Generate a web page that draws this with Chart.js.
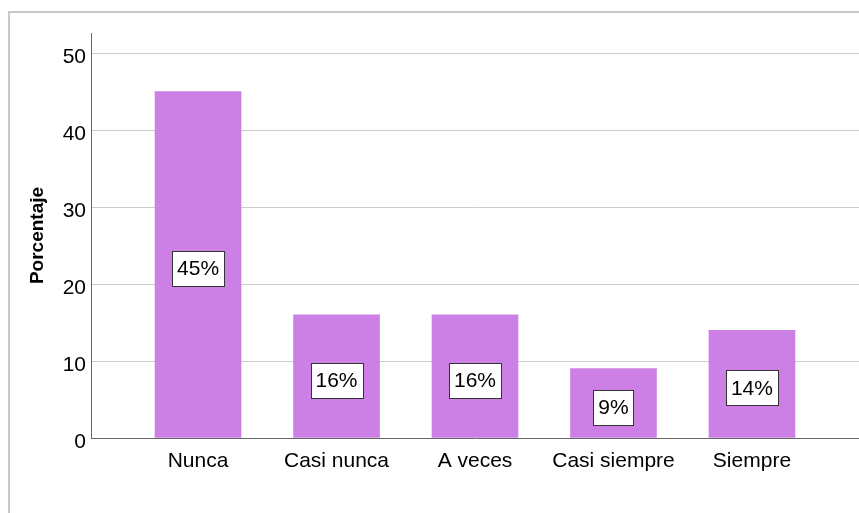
<!DOCTYPE html>
<html>
<head>
<meta charset="utf-8">
<script src="https://cdn.jsdelivr.net/npm/chart.js@4"></script>
<style>
  html, body { margin: 0; padding: 0; background: #fff; }
  #wrap { width: 859px; height: 513px; }
</style>
</head>
<body>
<div id="wrap"><canvas id="chart" width="859" height="513"></canvas></div>
<script>
// Categories and percentages
const categories = ["Nunca", "Casi nunca", "A veces", "Casi siempre", "Siempre"];
const percentages = [45, 16, 16, 9, 14];
const yTicks = [0, 10, 20, 30, 40, 50];

const FONT = "'Liberation Sans', Arial, sans-serif";

// Draws the light gray frame around the chart (SPSS style)
const framePlugin = {
    id: "frame",
    beforeDraw(chart) {
        const ctx = chart.ctx;
        ctx.save();
        ctx.strokeStyle = "#c8c8c8";
        ctx.lineWidth = 2;
        ctx.beginPath();
        ctx.moveTo(9, chart.height + 2);
        ctx.lineTo(9, 12);
        ctx.lineTo(chart.width + 2, 12);
        ctx.stroke();
        ctx.restore();
    }
};

// Boxed percentage labels in the middle of each bar
const boxLabels = {
    id: "boxLabels",
    afterDatasetsDraw(chart) {
        const ctx = chart.ctx;
        const meta = chart.getDatasetMeta(0);
        ctx.save();
        ctx.font = "21px " + FONT;
        ctx.textAlign = "center";
        ctx.textBaseline = "middle";
        meta.data.forEach(function (bar, i) {
            const text = percentages[i] + "%";
            const w = ctx.measureText(text).width + 10;
            const h = 35;
            const cx = bar.x;
            const cy = (bar.y + bar.base) / 2 + 4;
            ctx.fillStyle = "#ffffff";
            ctx.fillRect(Math.round(cx - w / 2) + 0.5, Math.round(cy - h / 2) + 0.5, Math.round(w), h);
            ctx.strokeStyle = "#333333";
            ctx.lineWidth = 1;
            ctx.strokeRect(Math.round(cx - w / 2) + 0.5, Math.round(cy - h / 2) + 0.5, Math.round(w), h);
            ctx.fillStyle = "#000000";
            ctx.fillText(text, cx, cy + 1);
        });
        ctx.restore();
    }
};

const ctx = document.getElementById("chart").getContext("2d");

new Chart(ctx, {
    type: "bar",
    data: {
        datasets: [{
            data: categories.map(function (c, i) { return { x: i + 1, y: percentages[i] }; }),
            backgroundColor: "#cc80e5",
            borderWidth: 0,
            barThickness: 86
        }]
    },
    options: {
        responsive: false,
        animation: false,
        devicePixelRatio: 1,
        layout: { padding: { top: 33, left: 0, right: 0, bottom: 0 } },
        plugins: {
            legend: { display: false },
            tooltip: { enabled: false }
        },
        scales: {
            x: {
                type: "linear",
                offset: false,
                min: 0.227,
                max: 5.773,
                afterBuildTicks: function (scale) {
                    scale.ticks = categories.map(function (c, i) { return { value: i + 1 }; });
                },
                afterFit: function (scale) { scale.height = 75; },
                grid: { display: false, drawTicks: false },
                border: { display: true, color: "#666666", width: 1 },
                ticks: {
                    padding: 11,
                    maxRotation: 0,
                    autoSkip: false,
                    color: "#000000",
                    font: { family: FONT, size: 21 },
                    callback: function (value) { return categories[value - 1]; }
                }
            },
            y: {
                min: 0,
                max: 52.6,
                afterBuildTicks: function (scale) {
                    scale.ticks = yTicks.map(function (v) { return { value: v }; });
                },
                afterFit: function (scale) { scale.width = 91; },
                grid: {
                    drawTicks: false,
                    color: function (c) { return c.tick && c.tick.value === 0 ? "rgba(0,0,0,0)" : "#cccccc"; },
                    lineWidth: 1
                },
                border: { display: true, color: "#666666", width: 1 },
                ticks: {
                    padding: 5,
                    labelOffset: 4,
                    color: "#000000",
                    font: { family: FONT, size: 21 }
                },
                title: {
                    display: true,
                    text: "Porcentaje",
                    color: "#000000",
                    font: { family: FONT, size: 19, weight: "bold" },
                    padding: { top: 26, bottom: 0 }
                }
            }
        }
    },
    plugins: [framePlugin, boxLabels]
});
</script>
</body>
</html>
